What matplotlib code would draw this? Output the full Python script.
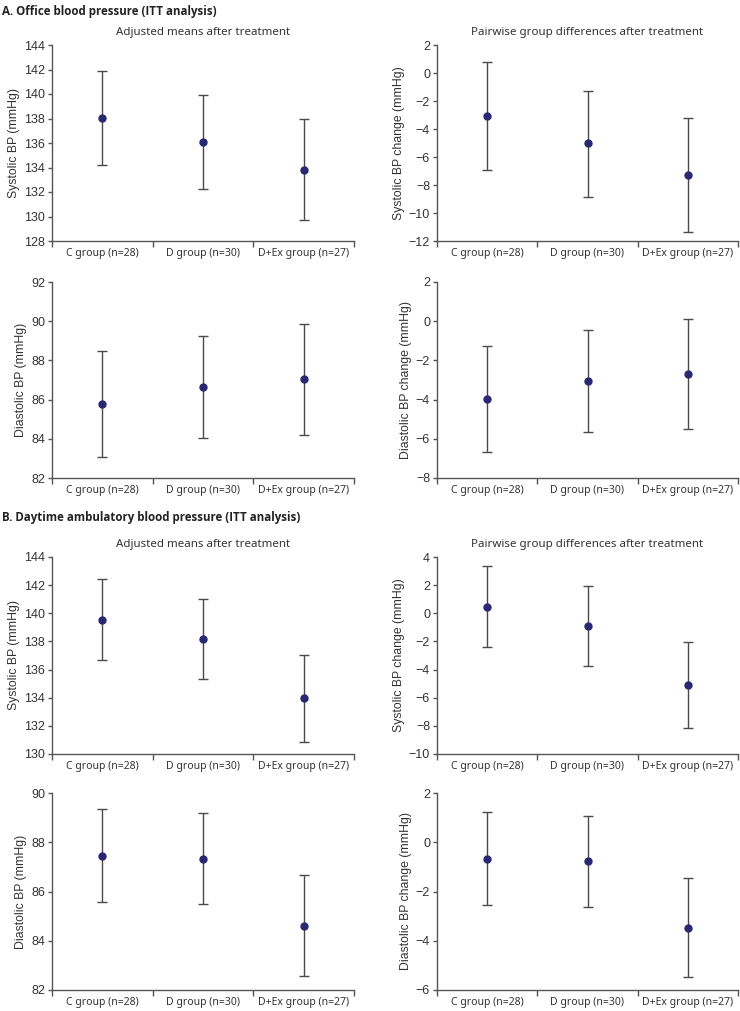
import numpy as np
import matplotlib
matplotlib.use('Agg')
import matplotlib.pyplot as plt

# groups on the x axis
groups = ['C group (n=28)', 'D group (n=30)', 'D+Ex group (n=27)']

# A. office BP, adjusted means and 95% CI
a_sbp_mean = [138.05, 136.05, 133.8]
a_sbp_lo = [134.2, 132.25, 129.75]
a_sbp_hi = [141.9, 139.9, 137.95]

a_sbp_diff = [-3.1, -5.0, -7.3]
a_sbp_diff_lo = [-6.93, -8.85, -11.39]
a_sbp_diff_hi = [0.82, -1.25, -3.19]

a_dbp_mean = [85.76, 86.66, 87.03]
a_dbp_lo = [83.07, 84.03, 84.2]
a_dbp_hi = [88.47, 89.27, 89.88]

a_dbp_diff = [-3.97, -3.04, -2.69]
a_dbp_diff_lo = [-6.65, -5.67, -5.52]
a_dbp_diff_hi = [-1.28, -0.43, 0.13]

# B. daytime ambulatory BP
b_sbp_mean = [139.53, 138.14, 133.95]
b_sbp_lo = [136.65, 135.3, 130.86]
b_sbp_hi = [142.44, 141.0, 137.0]

b_sbp_diff = [0.47, -0.9, -5.07]
b_sbp_diff_lo = [-2.37, -3.72, -8.13]
b_sbp_diff_hi = [3.34, 1.94, -2.04]

b_dbp_mean = [87.45, 87.34, 84.6]
b_dbp_lo = [85.57, 85.48, 82.57]
b_dbp_hi = [89.35, 89.2, 86.65]

b_dbp_diff = [-0.67, -0.77, -3.5]
b_dbp_diff_lo = [-2.56, -2.61, -5.48]
b_dbp_diff_hi = [1.23, 1.06, -1.46]

axis_col = '#555555'
bar_col = '#4a4a4a'
dot_col = '#2b2872'
tick_font = 'Liberation Sans'
text_font = 'Noto Sans'
head_font = 'Open Sans'


def draw_panel(ax, mean, lo, hi, ylim, ystep, ylabel, title=None):
    x = np.arange(1, len(groups) + 1)
    mean = np.array(mean)
    yerr = [mean - np.array(lo), np.array(hi) - mean]
    ax.errorbar(x, mean, yerr=yerr, fmt='o', color=dot_col, ms=5,
                ecolor=bar_col, elinewidth=1.0, capsize=3.5, capthick=1.0,
                zorder=3)
    ax.set_xlim(0.5, 3.5)
    ax.set_ylim(*ylim)
    ax.set_yticks(np.arange(ylim[0], ylim[1] + ystep / 2, ystep))
    ax.set_xticks(x)
    ax.set_xticklabels(groups, fontfamily=text_font, fontsize=7.5, color='#333333')
    ax.set_xticks([0.5, 1.5, 2.5, 3.5], minor=True)
    ax.tick_params(axis='x', which='major', length=0, pad=5)
    ax.tick_params(axis='x', which='minor', length=4, width=1, color=axis_col)
    ax.tick_params(axis='y', length=3, width=1, color=axis_col, pad=2,
                   labelsize=9, labelcolor='#333333')
    for lab in ax.get_yticklabels():
        lab.set_fontfamily(tick_font)
    ax.set_ylabel(ylabel, fontfamily=tick_font, fontsize=8.8, color='#333333', labelpad=3)
    for s in ['top', 'right']:
        ax.spines[s].set_visible(False)
    for s in ['left', 'bottom']:
        ax.spines[s].set_color(axis_col)
        ax.spines[s].set_linewidth(1)
    if title:
        ax.set_title(title, fontfamily=text_font, fontsize=8.3, color='#333333', pad=7)


fig = plt.figure(figsize=(7.4, 10.11), dpi=100)

W, H = 740, 1011
left_x, left_w = 52, 302
right_x, right_w = 437, 301
rows = [(45, 241), (282, 478), (557, 754), (793, 990)]


def make_ax(col, row):
    top, bot = rows[row]
    lx, lw = (left_x, left_w) if col == 0 else (right_x, right_w)
    return fig.add_axes([lx / W, 1 - bot / H, lw / W, (bot - top) / H])


draw_panel(make_ax(0, 0), a_sbp_mean, a_sbp_lo, a_sbp_hi, (128, 144), 2,
           'Systolic BP (mmHg)', 'Adjusted means after treatment')
draw_panel(make_ax(1, 0), a_sbp_diff, a_sbp_diff_lo, a_sbp_diff_hi, (-12, 2), 2,
           'Systolic BP change (mmHg)', 'Pairwise group differences after treatment')
draw_panel(make_ax(0, 1), a_dbp_mean, a_dbp_lo, a_dbp_hi, (82, 92), 2,
           'Diastolic BP (mmHg)')
draw_panel(make_ax(1, 1), a_dbp_diff, a_dbp_diff_lo, a_dbp_diff_hi, (-8, 2), 2,
           'Diastolic BP change (mmHg)')

draw_panel(make_ax(0, 2), b_sbp_mean, b_sbp_lo, b_sbp_hi, (130, 144), 2,
           'Systolic BP (mmHg)', 'Adjusted means after treatment')
draw_panel(make_ax(1, 2), b_sbp_diff, b_sbp_diff_lo, b_sbp_diff_hi, (-10, 4), 2,
           'Systolic BP change (mmHg)', 'Pairwise group differences after treatment')
draw_panel(make_ax(0, 3), b_dbp_mean, b_dbp_lo, b_dbp_hi, (82, 90), 2,
           'Diastolic BP (mmHg)')
draw_panel(make_ax(1, 3), b_dbp_diff, b_dbp_diff_lo, b_dbp_diff_hi, (-6, 2), 2,
           'Diastolic BP change (mmHg)')

fig.text(2 / W, 1 - 11 / H, 'A. Office blood pressure (ITT analysis)',
         fontfamily=head_font, fontweight='bold', fontsize=8.3, color='#222222',
         va='center', ha='left')
fig.text(2 / W, 1 - 518 / H, 'B. Daytime ambulatory blood pressure (ITT analysis)',
         fontfamily=head_font, fontweight='bold', fontsize=8.3, color='#222222',
         va='center', ha='left')

fig.savefig('out.png', dpi=100, facecolor='white')
